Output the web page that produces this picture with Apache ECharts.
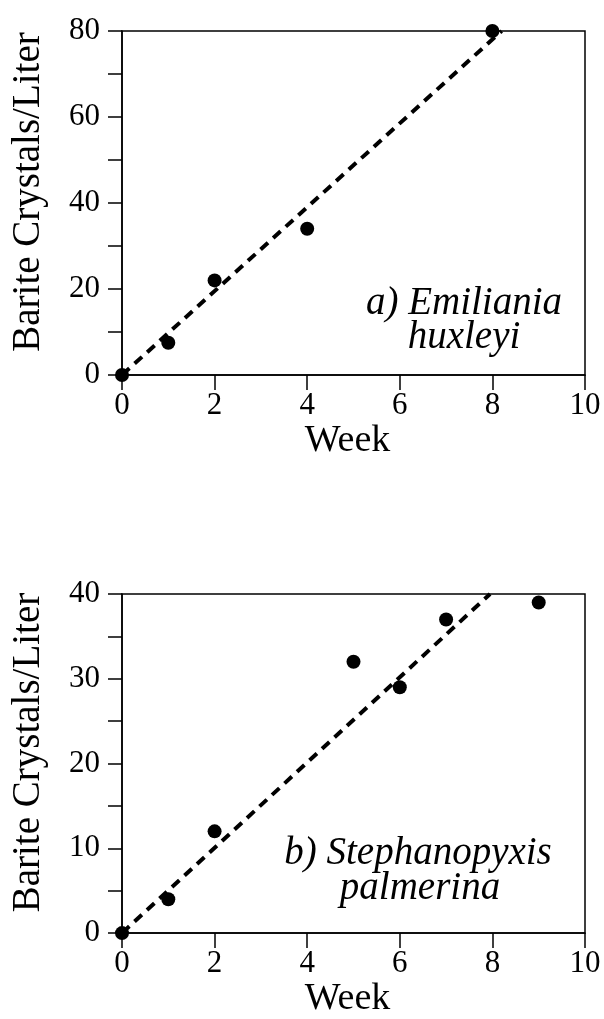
<!DOCTYPE html>
<html>
<head>
    <meta charset="utf-8">
    <title>Barite Crystals</title>
    <script src="https://cdn.jsdelivr.net/npm/echarts@6.0.0/dist/echarts.min.js"></script>
    <style>
        body { margin: 0; background: #fff; }
        #chart { width: 604px; height: 1019px; }
    </style>
</head>
<body>
    <div id="chart"></div>
    <script>
        // panel a) Emiliania huxleyi
        var weeksA = [0, 1, 2, 4, 8];
        var crystalsA = [0, 7.5, 22, 34, 80];
        var fitA = [[0, 0], [8.2, 80]];

        // panel b) Stephanopyxis palmerina
        var weeksB = [0, 1, 2, 5, 6, 7, 9];
        var crystalsB = [0, 4, 12, 32, 29, 37, 39];
        var fitB = [[0, 0], [7.95, 40]];

        var serif = '"Liberation Serif", "Times New Roman", serif';
        var myChart = echarts.init(document.getElementById('chart'));

        function pairs(xs, ys) {
            return xs.map(function (x, i) { return [x, ys[i]]; });
        }

        function xAxisFor(idx) {
            return {
                gridIndex: idx, type: 'value', min: 0, max: 10, interval: 2,
                name: 'Week', nameLocation: 'middle', nameGap: 46,
                nameTextStyle: { fontFamily: serif, fontSize: 38, color: '#000', padding: [0, 12, 0, 0] },
                axisLine: { lineStyle: { color: '#000', width: 1.5 } },
                axisTick: { inside: false, length: 15, lineStyle: { color: '#000', width: 1.5 } },
                axisLabel: { margin: 15, fontFamily: serif, fontSize: 31, color: '#000' },
                splitLine: { show: false }
            };
        }

        function yAxisFor(idx, max, step) {
            return {
                gridIndex: idx, type: 'value', min: 0, max: max, interval: step,
                name: 'Barite Crystals/Liter', nameLocation: 'middle', nameGap: 74,
                nameTextStyle: { fontFamily: serif, fontSize: 39, color: '#000', padding: [0, 0, 0, 22] },
                axisLine: { lineStyle: { color: '#000', width: 1.5 } },
                axisTick: { inside: false, length: 14, lineStyle: { color: '#000', width: 1.5 } },
                axisLabel: {
                    margin: 22, fontFamily: serif, fontSize: 31, color: '#000',
                    formatter: function (v) { return v % (step * 2) === 0 ? String(v) : ''; }
                },
                splitLine: { show: false }
            };
        }

        function noteText(x, y, text) {
            return {
                type: 'text', x: x, y: y,
                style: {
                    text: text, fill: '#000', align: 'center', verticalAlign: 'middle',
                    font: 'italic 39px ' + serif
                }
            };
        }

        var fitStyle = { color: '#000', width: 4, type: [10, 7] };
        var dotStyle = { color: '#000', opacity: 1 };

        var option = {
            backgroundColor: '#fff',
            animation: false,
            grid: [
                { left: 122, top: 31, width: 463, height: 344, show: true, borderColor: '#000', borderWidth: 1.5 },
                { left: 122, top: 594, width: 463, height: 345, show: true, borderColor: '#000', borderWidth: 1.5 }
            ],
            xAxis: [xAxisFor(0), xAxisFor(1)],
            yAxis: [yAxisFor(0, 80, 10), yAxisFor(1, 40, 5)],
            series: [
                {
                    type: 'line', xAxisIndex: 0, yAxisIndex: 0, data: fitA,
                    showSymbol: false, lineStyle: fitStyle, z: 2
                },
                {
                    type: 'scatter', xAxisIndex: 0, yAxisIndex: 0, data: pairs(weeksA, crystalsA),
                    symbolSize: 14, itemStyle: dotStyle, z: 3
                },
                {
                    type: 'line', xAxisIndex: 1, yAxisIndex: 1, data: fitB,
                    showSymbol: false, lineStyle: fitStyle, z: 2
                },
                {
                    type: 'scatter', xAxisIndex: 1, yAxisIndex: 1, data: pairs(weeksB, crystalsB),
                    symbolSize: 14, itemStyle: dotStyle, z: 3
                }
            ],
            graphic: [
                noteText(464, 304, 'a) Emiliania'),
                noteText(464, 338, 'huxleyi'),
                noteText(418, 854, 'b) Stephanopyxis'),
                noteText(420, 889, 'palmerina')
            ]
        };

        myChart.setOption(option);
    </script>
</body>
</html>
